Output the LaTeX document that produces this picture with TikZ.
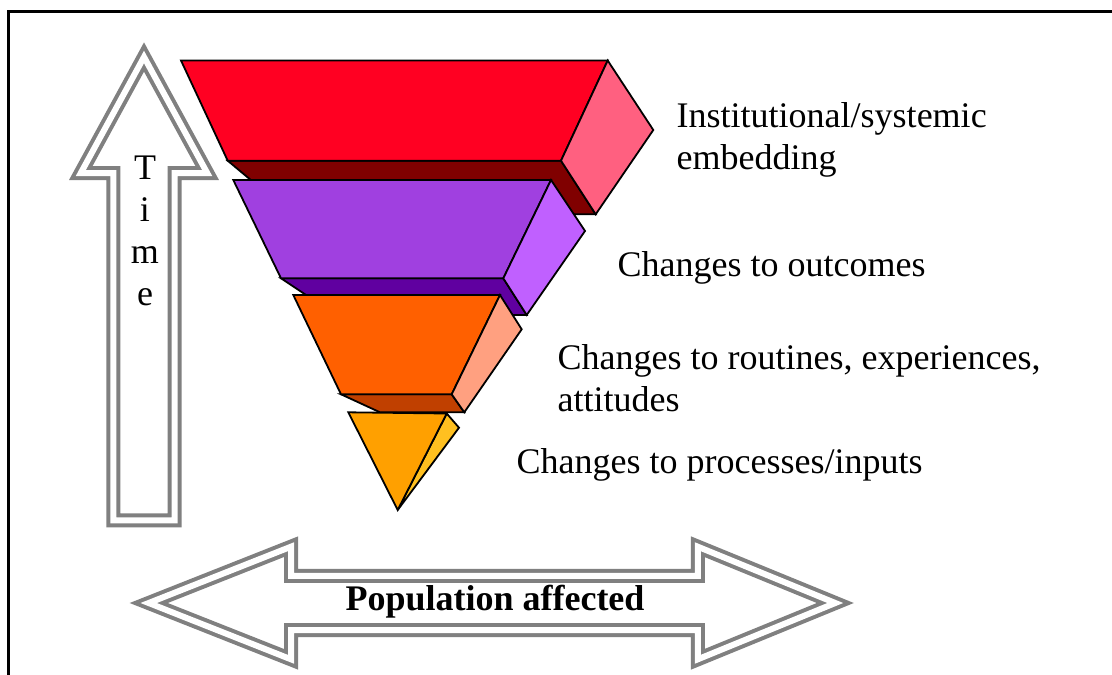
\documentclass[tikz,border=0pt]{standalone}
\usepackage{fontspec}
\setmainfont{Liberation Serif}
\definecolor{redF}{RGB}{255,0,34}
\definecolor{redS}{RGB}{255,96,128}
\definecolor{redB}{RGB}{128,0,0}
\definecolor{purF}{RGB}{160,64,224}
\definecolor{purS}{RGB}{192,96,255}
\definecolor{purB}{RGB}{96,0,160}
\definecolor{oraF}{RGB}{255,96,0}
\definecolor{oraS}{RGB}{255,160,128}
\definecolor{oraB}{RGB}{192,64,0}
\definecolor{yelF}{RGB}{255,160,0}
\definecolor{yelS}{RGB}{255,192,32}
\definecolor{arrowgray}{RGB}{128,128,128}
\newcommand{\lblfont}{\fontsize{36}{42}\selectfont}
\tikzset{
  face/.style={draw=black, line width=1.8pt, line join=miter},
  dblarrow/.style={draw=arrowgray, line width=4pt, double=white, double distance=6pt, line join=miter},
  lbl/.style={anchor=base west, inner sep=0pt, font=\lblfont},
}
\begin{document}
\begin{tikzpicture}[x=1pt,y=-1pt]
\useasboundingbox (0,0) rectangle (1112,675);
\fill[white] (0,0) rectangle (1112,675);
% frame
\draw[line width=2.6pt] (1115,11.3) -- (8.7,11.3) -- (8.7,678);

% red layer
\filldraw[face, fill=redB] (227.7,160.7) -- (561,160.7) -- (595.7,214.3) -- (292,214.3) -- cycle;
\filldraw[face, fill=redF] (181,60.5) -- (607.7,60.5) -- (561,160.7) -- (227.7,160.7) -- cycle;
\filldraw[face, fill=redS] (607.7,60.5) -- (653.3,130) -- (595.7,214.3) -- (561,160.7) -- cycle;

% purple layer
\filldraw[face, fill=purB] (281,278.3) -- (503.3,278.3) -- (526.7,315) -- (336,315) -- cycle;
\filldraw[face, fill=purF] (233.3,180) -- (551,180) -- (503.3,278.3) -- (281,278.3) -- cycle;
\filldraw[face, fill=purS] (551,180) -- (585,231) -- (526.7,315) -- (503.3,278.3) -- cycle;

% orange layer
\filldraw[face, fill=oraB] (341,394.3) -- (451.7,394.3) -- (464.3,412.3) -- (380,412.3) -- cycle;
\filldraw[face, fill=oraF] (293.3,295) -- (500,295) -- (451.7,394.3) -- (341,394.3) -- cycle;
\filldraw[face, fill=oraS] (500,295) -- (521.7,329.3) -- (464.3,412.3) -- (451.7,394.3) -- cycle;

% yellow tip
\filldraw[face, fill=yelS] (446.7,413.5) -- (459,427.7) -- (397.7,510) -- cycle;
\filldraw[face, fill=yelF] (348.3,412.3) -- (446.7,413.5) -- (397.7,510) -- cycle;

% time arrow
\draw[dblarrow] (144,57) -- (207.2,173) -- (174.5,173) -- (174.5,520.3) -- (113.3,520.3) -- (113.3,173) -- (80.8,173) -- cycle;
\node[font=\lblfont, align=center, inner sep=0pt, anchor=center] (time) at (145,230.5) {T\\i\\m\\e};

% population arrow
\draw[dblarrow] (148.7,603) -- (291,546.7) -- (291,575.8) -- (697.8,575.8) -- (697.8,546.7) -- (835.3,603) -- (697.8,659.3) -- (697.8,630) -- (291,630) -- (291,659.3) -- cycle;
\node[font=\lblfont\bfseries, inner sep=0pt, anchor=base] (pop) at (495,610) {Population affected};

% labels
\node[lbl] (l1a) at (676.5,127) {Institutional/systemic};
\node[lbl] (l1b) at (676.5,169) {embedding};
\node[lbl] (l2) at (617.5,276) {Changes to outcomes};
\node[lbl] (l3a) at (557.5,369) {Changes to routines, experiences,};
\node[lbl] (l3b) at (557.5,411) {attitudes};
\node[lbl] (l4) at (516.5,473) {Changes to processes/inputs};
\end{tikzpicture}
\end{document}
